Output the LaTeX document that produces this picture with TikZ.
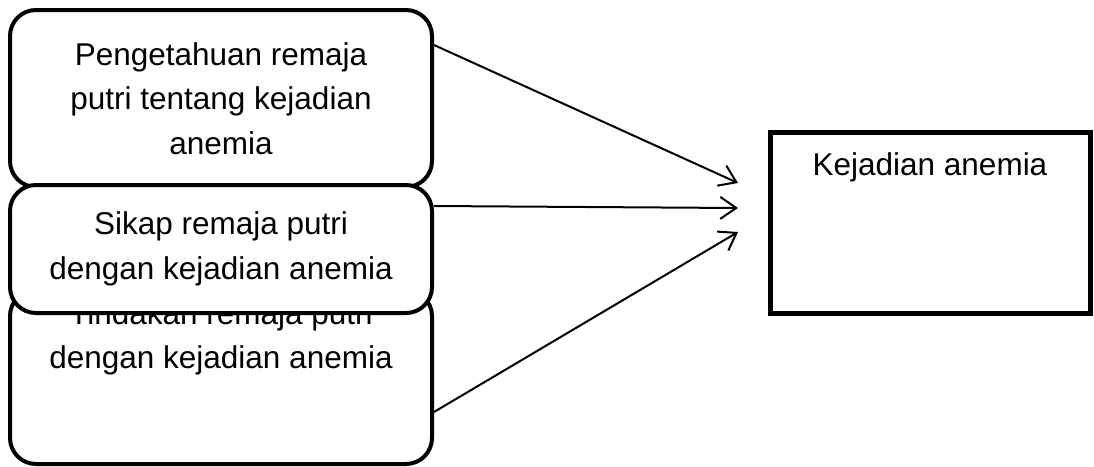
\documentclass[tikz,border=0pt]{standalone}
\usepackage{fontspec}
\setmainfont{Liberation Sans}
\usetikzlibrary{arrows.meta}
\begin{document}
\begin{tikzpicture}[x=1pt,y=-1pt,
  rbox/.style={draw, line width=4pt, rounded corners=26pt, fill=white, inner sep=0pt},
  sbox/.style={draw, line width=5pt, fill=white, inner sep=0pt},
  txt/.style={font=\fontsize{31.5}{44.5}\selectfont, align=center, inner sep=0pt},
  arr/.style={line width=2pt, -{Straight Barb[length=16pt,width=22pt,line width=2pt]}}]
\useasboundingbox (0,0) rectangle (1094,466);
% Tindakan box (drawn first, partly hidden)
\node[rbox, minimum width=422pt, minimum height=174pt] (b3) at (221,377) {};
\node[txt, anchor=north] (t3) at (221,301) {Tindakan remaja putri\\dengan kejadian anemia};
% Pengetahuan box
\node[rbox, txt, minimum width=422pt, minimum height=177pt] (b1) at (221,98.5)
  {Pengetahuan remaja\\putri tentang kejadian\\anemia};
% Sikap box
\node[rbox, txt, minimum width=422pt, minimum height=128pt] (b2) at (221,249)
  {Sikap remaja putri\\dengan kejadian anemia};
% Kejadian anemia box
\node[sbox, minimum width=320pt, minimum height=181pt] (k) at (930,222.5) {};
\node[txt, anchor=north] (tk) at (930,152) {Kejadian anemia};
% arrow ends
\coordinate (e1) at (738,183);
\coordinate (e2) at (738,208);
\coordinate (e3) at (738,232);
\draw[arr] ([yshift=-37pt]b1.north east) -- (e1);
\draw[arr] ([yshift=-23pt]b2.north east) -- (e2);
\draw[arr] ([yshift=54pt]b3.south east) -- (e3);
\end{tikzpicture}
\end{document}
